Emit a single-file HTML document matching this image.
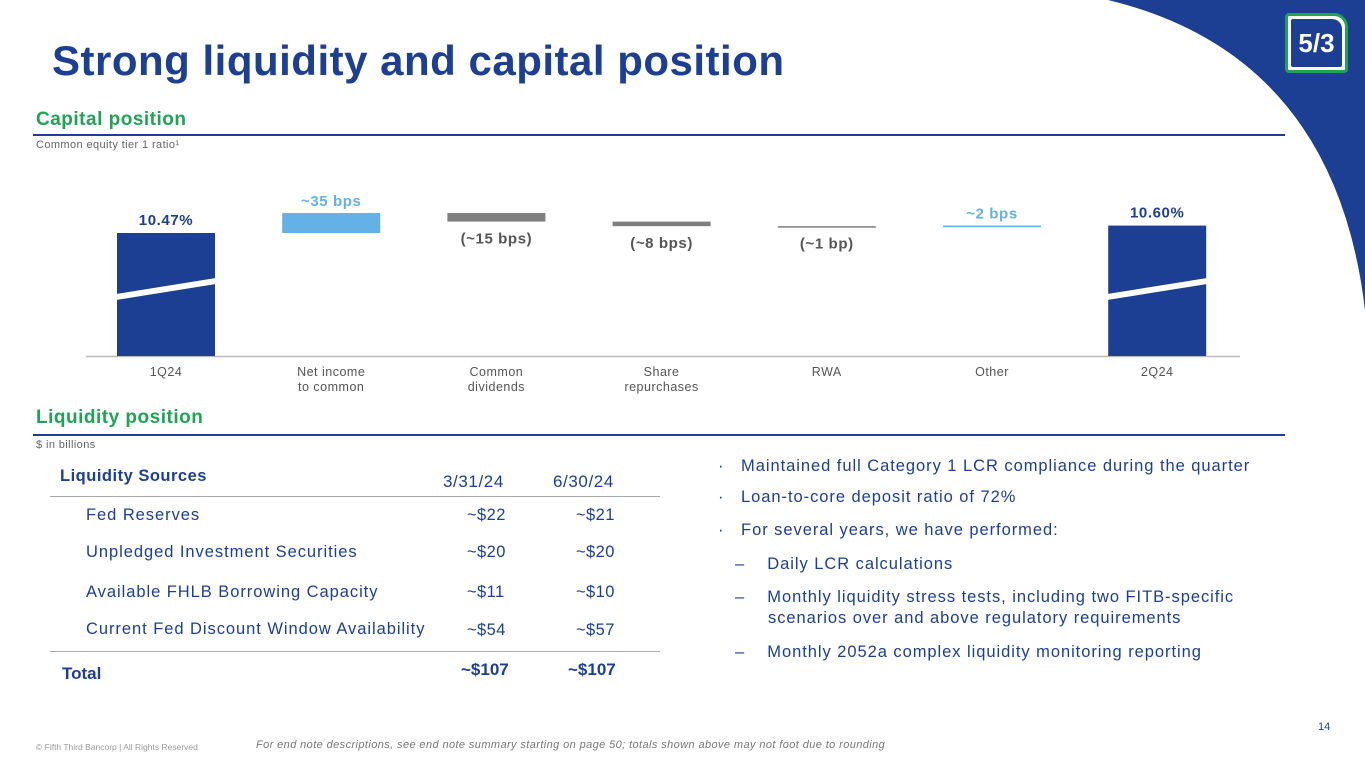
<!DOCTYPE html>
<html><head><meta charset="utf-8">
<style>
body{margin:0;width:1365px;height:768px;overflow:hidden;background:#fff;font-family:"Liberation Sans",sans-serif;position:relative}
.a{position:absolute;white-space:nowrap}
.b{color:#1c3f94}
.g{color:#20a354;font-weight:bold;font-size:19px;letter-spacing:0.5px}
.sm{font-size:11px;color:#666;letter-spacing:0.4px}
.row{font-size:16.5px;color:#1c3f94;letter-spacing:0.95px}
.num{font-size:16.5px;color:#1c3f94;letter-spacing:0.4px}
.bul{font-size:16.5px;color:#1c3f94;letter-spacing:0.95px}
</style></head><body>
<svg class="a" style="left:0;top:0" width="1365" height="768">
<path d="M1108,0 Q1335,55 1365,310 L1365,0 Z" fill="#1c3f94"/>
</svg>
<div class="a" style="left:1285px;top:13px;width:63px;height:60px;border:3px solid #20a354;border-radius:4px 14px 4px 4px;background:#fff;box-sizing:border-box">
<div style="position:absolute;left:3px;top:3px;right:3px;bottom:3px;background:#1c3f94;border-radius:2px 10px 2px 2px;color:#fff;font-weight:bold;font-size:26px;text-align:center;line-height:48px">5/3</div></div>

<div class="a b" style="left:52px;top:37px;font-size:42px;font-weight:bold;letter-spacing:0.5px">Strong liquidity and capital position</div>

<div class="a g" style="left:36px;top:109px">Capital position</div>
<div class="a" style="left:33px;top:134px;width:1252px;height:2px;background:#1c3f94"></div>
<div class="a sm" style="left:36px;top:139px">Common equity tier 1 ratio¹</div>

<svg class="a" id="chart" style="left:0;top:0" width="1365" height="400"></svg>

<div class="a g" style="left:36px;top:407px">Liquidity position</div>
<div class="a" style="left:33px;top:434px;width:1252px;height:2px;background:#1c3f94"></div>
<div class="a sm" style="left:36px;top:439px">$ in billions</div>

<div>
<div class="a b" style="left:60px;top:467px;font-size:16.5px;font-weight:bold;letter-spacing:0.5px">Liquidity Sources</div>
<div class="a b" style="left:443px;top:472px;font-size:17px;letter-spacing:0.6px">3/31/24</div>
<div class="a b" style="left:553px;top:472px;font-size:17px;letter-spacing:0.6px">6/30/24</div>
<div class="a" style="left:50px;top:496px;width:610px;height:1px;background:#aaa"></div>
<div class="a row" style="left:86px;top:506px">Fed Reserves</div>
<div class="a num" style="left:467px;top:506px">~$22</div><div class="a num" style="left:576px;top:506px">~$21</div>
<div class="a row" style="left:86px;top:543px">Unpledged Investment Securities</div>
<div class="a num" style="left:467px;top:543px">~$20</div><div class="a num" style="left:576px;top:543px">~$20</div>
<div class="a row" style="left:86px;top:583px">Available FHLB Borrowing Capacity</div>
<div class="a num" style="left:467px;top:583px">~$11</div><div class="a num" style="left:576px;top:583px">~$10</div>
<div class="a row" style="left:86px;top:620px">Current Fed Discount Window Availability</div>
<div class="a num" style="left:467px;top:621px">~$54</div><div class="a num" style="left:576px;top:621px">~$57</div>
<div class="a" style="left:50px;top:651px;width:610px;height:1px;background:#aaa"></div>
<div class="a b" style="left:62px;top:664px;font-size:17px;font-weight:bold">Total</div>
<div class="a b" style="left:461px;top:660px;font-size:17px;font-weight:bold">~$107</div>
<div class="a b" style="left:568px;top:660px;font-size:17px;font-weight:bold">~$107</div>
</div>

<div>
<div class="a bul" style="left:718px;top:457px">·&nbsp;&nbsp; Maintained full Category 1 LCR compliance during the quarter</div>
<div class="a bul" style="left:718px;top:488px">·&nbsp;&nbsp; Loan-to-core deposit ratio of 72%</div>
<div class="a bul" style="left:718px;top:521px">·&nbsp;&nbsp; For several years, we have performed:</div>
<div class="a bul" style="left:735px;top:555px">–&nbsp;&nbsp;&nbsp; Daily LCR calculations</div>
<div class="a bul" style="left:735px;top:588px">–&nbsp;&nbsp;&nbsp; Monthly liquidity stress tests, including two FITB-specific</div>
<div class="a bul" style="left:768px;top:609px">scenarios over and above regulatory requirements</div>
<div class="a bul" style="left:735px;top:643px">–&nbsp;&nbsp;&nbsp; Monthly 2052a complex liquidity monitoring reporting</div>
</div>

<div class="a" style="left:1318px;top:721px;font-size:11px;color:#1c3f94">14</div>
<div class="a" style="left:36px;top:742px;font-size:8.5px;color:#999">© Fifth Third Bancorp | All Rights Reserved</div>
<div class="a" style="left:256px;top:739px;font-size:11px;color:#777;font-style:italic;letter-spacing:0.4px">For end note descriptions, see end note summary starting on page 50; totals shown above may not foot due to rounding</div>

<script>
const categories=["1Q24","Net income\nto common","Common\ndividends","Share\nrepurchases","RWA","Other","2Q24"];
const deltas=[10.47,0.35,-0.15,-0.08,-0.01,0.02,10.60];
const labels=["10.47%","~35 bps","(~15 bps)","(~8 bps)","(~1 bp)","~2 bps","10.60%"];
const svg=document.getElementById('chart');
const NS='http://www.w3.org/2000/svg';
const x=i=>166+i*165.2, bw=98, baseY=356;
const y=v=>233-(v-10.47)*57;
function el(t,a){const e=document.createElementNS(NS,t);for(const k in a)e.setAttribute(k,a[k]);svg.appendChild(e);return e;}
const ax=el('line',{x1:86,x2:1240,y1:baseY+0.5,y2:baseY+0.5,stroke:'#bbb','stroke-width':1.5});


let run=0;
deltas.forEach((d,i)=>{
  const cx=x(i);let top,bot,fill,lc,ly;
  if(i===0||i===deltas.length-1){run=d;top=y(d);bot=baseY;fill='#1c3f94';lc='#1c3f94';ly=top-8;}
  else{const s=run;run=s+d;top=y(Math.max(s,run));bot=y(Math.min(s,run));
    fill=d>0?'#63b1e6':'#7f7f7f';lc=d>0?'#63b1e6':'#555';ly=d>0?top-7:bot+22;}
  const h=Math.max(bot-top,1.5);
  const r=el('rect',{x:cx-bw/2,y:top,width:bw,height:h,fill:fill});
  
  
  if(i===0||i===deltas.length-1){
    const gy=bot-62;
    el('polygon',{points:`${cx-bw/2-1},${gy} ${cx+bw/2+1},${gy-16} ${cx+bw/2+1},${gy-10} ${cx-bw/2-1},${gy+6}`,fill:'#fff'});
  }
  const t=el('text',{x:cx,y:ly,'text-anchor':'middle','font-size':15,'font-weight':'bold',fill:lc,'font-family':'Liberation Sans, sans-serif','letter-spacing':0.6});
  t.textContent=labels[i];
  
  
  categories[i].split('\n').forEach((ln,k)=>{
    const c=el('text',{x:cx,y:376+k*15,'text-anchor':'middle','font-size':12.5,fill:'#555','font-family':'Liberation Sans, sans-serif','letter-spacing':0.5});
    c.textContent=ln;
    
    
  });
});
</script>
</body></html>
